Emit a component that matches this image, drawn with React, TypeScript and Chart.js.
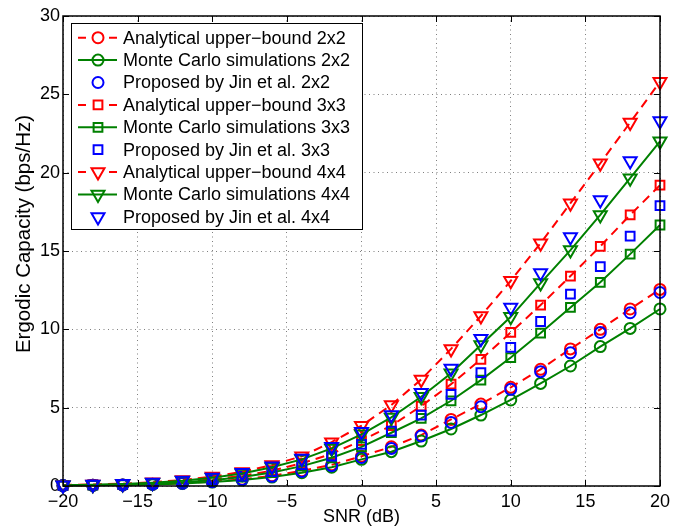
import React, { useEffect, useRef } from "react";
import { Chart, registerables } from "chart.js";

Chart.register(...registerables);

const snr = [-20, -18, -16, -14, -12, -10, -8, -6, -4, -2, 0, 2, 4, 6, 8, 10, 12, 14, 16, 18, 20];

const anal2 = [0.03, 0.05, 0.07, 0.11, 0.18, 0.28, 0.43, 0.65, 0.97, 1.35, 1.9, 2.5, 3.25, 4.25, 5.23, 6.3, 7.45, 8.75, 10.0, 11.3, 12.55];
const mc2 = [0.03, 0.04, 0.07, 0.1, 0.16, 0.25, 0.38, 0.57, 0.85, 1.2, 1.7, 2.19, 2.87, 3.64, 4.53, 5.49, 6.55, 7.66, 8.9, 10.06, 11.3];
const jin2 = [0.03, 0.05, 0.07, 0.11, 0.17, 0.27, 0.41, 0.62, 0.93, 1.3, 1.82, 2.4, 3.19, 4.06, 5.06, 6.17, 7.3, 8.5, 9.8, 11.06, 12.35];

const anal3 = [0.04, 0.07, 0.11, 0.17, 0.27, 0.42, 0.65, 0.98, 1.45, 2.05, 2.9, 3.85, 5.1, 6.5, 8.08, 9.8, 11.55, 13.4, 15.3, 17.3, 19.2];
const mc3 = [0.04, 0.06, 0.1, 0.15, 0.24, 0.37, 0.57, 0.86, 1.27, 1.8, 2.5, 3.4, 4.32, 5.44, 6.76, 8.2, 9.76, 11.4, 13.0, 14.8, 16.66];
const jin3 = [0.04, 0.07, 0.1, 0.16, 0.25, 0.4, 0.61, 0.92, 1.36, 1.9, 2.65, 3.5, 4.53, 5.85, 7.23, 8.85, 10.5, 12.25, 14.0, 15.95, 17.9];

const anal4 = [0.06, 0.1, 0.15, 0.24, 0.38, 0.6, 0.9, 1.34, 1.9, 2.8, 3.85, 5.17, 6.8, 8.75, 10.85, 13.1, 15.5, 18.05, 20.6, 23.2, 25.8];
const mc4 = [0.05, 0.08, 0.13, 0.21, 0.33, 0.52, 0.8, 1.2, 1.7, 2.4, 3.3, 4.38, 5.7, 7.2, 9.0, 10.8, 12.95, 15.06, 17.3, 19.65, 22.0];
const jin4 = [0.05, 0.09, 0.14, 0.22, 0.35, 0.55, 0.84, 1.26, 1.75, 2.5, 3.47, 4.53, 5.95, 7.5, 9.4, 11.4, 13.6, 15.9, 18.25, 20.75, 23.3];

const legendLabels = [
  "Analytical upper\u2212bound 2x2",
  "Monte Carlo simulations 2x2",
  "Proposed by Jin et al. 2x2",
  "Analytical upper\u2212bound 3x3",
  "Monte Carlo simulations 3x3",
  "Proposed by Jin et al. 3x3",
  "Analytical upper\u2212bound 4x4",
  "Monte Carlo simulations 4x4",
  "Proposed by Jin et al. 4x4",
];

const yTitle = "Ergodic Capacity (bps/Hz)";
const xTitle = "SNR (dB)";

const RED = "#ff0000";
const GREEN = "#008000";
const BLUE = "#0000ff";
const FONT = "'Liberation Sans', Arial, Helvetica, sans-serif";

type Kind = "anal" | "mc" | "jin";
type Marker = "circle" | "rect" | "triangle";

const seriesDefs: { values: number[]; kind: Kind; marker: Marker }[] = [
  { values: anal2, kind: "anal", marker: "circle" },
  { values: mc2, kind: "mc", marker: "circle" },
  { values: jin2, kind: "jin", marker: "circle" },
  { values: anal3, kind: "anal", marker: "rect" },
  { values: mc3, kind: "mc", marker: "rect" },
  { values: jin3, kind: "jin", marker: "rect" },
  { values: anal4, kind: "anal", marker: "triangle" },
  { values: mc4, kind: "mc", marker: "triangle" },
  { values: jin4, kind: "jin", marker: "triangle" },
];

const colorFor = (k: Kind) => (k === "anal" ? RED : k === "mc" ? GREEN : BLUE);
const radiusFor = (m: Marker) => (m === "circle" ? 5.5 : m === "rect" ? 6.2 : 7.5);

function drawMarker(ctx: CanvasRenderingContext2D, m: Marker, x: number, y: number, color: string) {
  const r = radiusFor(m);
  ctx.save();
  ctx.setLineDash([]);
  ctx.strokeStyle = color;
  ctx.lineWidth = 2;
  ctx.beginPath();
  if (m === "circle") {
    ctx.arc(x, y, r, 0, Math.PI * 2);
  } else if (m === "rect") {
    const s = Math.SQRT1_2 * r;
    ctx.rect(x - s, y - s, 2 * s, 2 * s);
  } else {
    for (let i = 0; i < 3; i++) {
      const a = Math.PI + (i * 2 * Math.PI) / 3;
      const px = x + Math.sin(a) * r;
      const py = y - Math.cos(a) * r;
      if (i === 0) ctx.moveTo(px, py);
      else ctx.lineTo(px, py);
    }
    ctx.closePath();
  }
  ctx.stroke();
  ctx.restore();
}

const framePlugin = {
  id: "matlabFrame",
  afterDraw(chart: any) {
    const ctx: CanvasRenderingContext2D = chart.ctx;
    const { left, right, top, bottom } = chart.chartArea;
    const xs = chart.scales.x;
    const ys = chart.scales.y;
    ctx.save();
    ctx.strokeStyle = "#000";
    ctx.lineWidth = 1.5;
    ctx.setLineDash([]);
    ctx.strokeRect(Math.round(left), Math.round(top), Math.round(right - left), Math.round(bottom - top));
    const tl = 6;
    ctx.lineWidth = 1;
    ctx.beginPath();
    xs.ticks.forEach((t: any) => {
      const px = Math.round(xs.getPixelForValue(t.value)) + 0.5;
      ctx.moveTo(px, bottom);
      ctx.lineTo(px, bottom - tl);
      ctx.moveTo(px, top);
      ctx.lineTo(px, top + tl);
    });
    ys.ticks.forEach((t: any) => {
      const py = Math.round(ys.getPixelForValue(t.value)) + 0.5;
      ctx.moveTo(left, py);
      ctx.lineTo(left + tl, py);
      ctx.moveTo(right, py);
      ctx.lineTo(right - tl, py);
    });
    ctx.stroke();

    // y-axis title
    ctx.fillStyle = "#000";
    ctx.font = `20.5px ${FONT}`;
    ctx.textAlign = "center";
    ctx.textBaseline = "middle";
    ctx.translate(24, 234);
    ctx.rotate(-Math.PI / 2);
    ctx.fillText(yTitle, 0, 0);
    ctx.restore();

    // legend
    ctx.save();
    const bx = left + 8;
    const by = top + 7;
    const bw = 291;
    const bh = 206;
    ctx.fillStyle = "#fff";
    ctx.fillRect(bx, by, bw, bh);
    ctx.strokeStyle = "#000";
    ctx.lineWidth = 1;
    ctx.strokeRect(Math.round(bx) + 0.5, Math.round(by) + 0.5, bw, bh);
    const rowH = 22.4;
    const y0 = by + 14.7;
    const lx0 = bx + 7;
    const lx1 = bx + 46;
    const mx = bx + 27;
    ctx.font = `18px ${FONT}`;
    ctx.textAlign = "left";
    ctx.textBaseline = "middle";
    seriesDefs.forEach((s, i) => {
      const y = y0 + i * rowH;
      const c = colorFor(s.kind);
      ctx.strokeStyle = c;
      ctx.lineWidth = 2;
      if (s.kind === "anal") {
        ctx.setLineDash([]);
        ctx.beginPath();
        ctx.moveTo(lx0, y);
        ctx.lineTo(lx0 + 8, y);
        ctx.moveTo(lx1 - 8, y);
        ctx.lineTo(lx1, y);
        ctx.stroke();
      } else if (s.kind === "mc") {
        ctx.setLineDash([]);
        ctx.beginPath();
        ctx.moveTo(lx0, y);
        ctx.lineTo(lx1, y);
        ctx.stroke();
      }
      drawMarker(ctx, s.marker, mx, y, c);
      ctx.fillStyle = "#000";
      ctx.fillText(legendLabels[i], bx + 52, y + 1);
    });
    ctx.restore();
  },
};

export default function App() {
  const ref = useRef<HTMLCanvasElement | null>(null);
  useEffect(() => {
    if (!ref.current) return;
    const datasets = seriesDefs.map((s, i) => {
      const c = colorFor(s.kind);
      return {
        label: legendLabels[i],
        data: s.values.map((v, j) => ({ x: snr[j], y: v })),
        borderColor: c,
        backgroundColor: "rgba(0,0,0,0)",
        borderWidth: 2,
        borderDash: s.kind === "anal" ? [9, 6] : [],
        showLine: s.kind !== "jin",
        tension: 0,
        pointStyle: s.marker,
        rotation: s.marker === "triangle" ? 180 : 0,
        pointRadius: radiusFor(s.marker),
        pointBorderWidth: 2,
        pointBorderColor: c,
        pointBackgroundColor: "rgba(0,0,0,0)",
        clip: false as any,
        order: 9 - i,
      };
    });
    const chart = new Chart(ref.current, {
      type: "line",
      data: { datasets: datasets as any },
      options: {
        responsive: false,
        animation: false,
        layout: { padding: { left: 0, right: 27, top: 16, bottom: 0 } },
        plugins: { legend: { display: false }, tooltip: { enabled: false } },
        scales: {
          x: {
            type: "linear",
            min: -20,
            max: 20,
            afterFit: (s: any) => {
              s.height = 43;
            },
            ticks: {
              stepSize: 5,
              padding: 5,
              color: "#000",
              font: { family: FONT, size: 18 },
              maxRotation: 0,
              callback: (v: any) => (Number(v) < 0 ? "\u2212" + Math.abs(Number(v)) : String(v)),
            },
            grid: { color: "rgba(0,0,0,0.5)", lineWidth: 1, drawTicks: false },
            border: { display: false, dash: [1, 3.5] },
            title: {
              display: true,
              text: xTitle,
              color: "#000",
              font: { family: FONT, size: 18 },
              padding: { top: 0, bottom: 1 },
            },
          },
          y: {
            type: "linear",
            min: 0,
            max: 30,
            afterFit: (s: any) => {
              s.width = 63;
            },
            ticks: {
              stepSize: 5,
              padding: 3,
              color: "#000",
              font: { family: FONT, size: 18 },
            },
            grid: { color: "rgba(0,0,0,0.5)", lineWidth: 1, drawTicks: false },
            border: { display: false, dash: [1, 3.5] },
          },
        },
      },
      plugins: [framePlugin],
    });
    return () => chart.destroy();
  }, []);
  return (
    <div style={{ position: "fixed", left: 0, top: 0, width: 687, height: 529, background: "#fff" }}>
      <canvas ref={ref} width={687} height={529} style={{ width: 687, height: 529 }} />
    </div>
  );
}
